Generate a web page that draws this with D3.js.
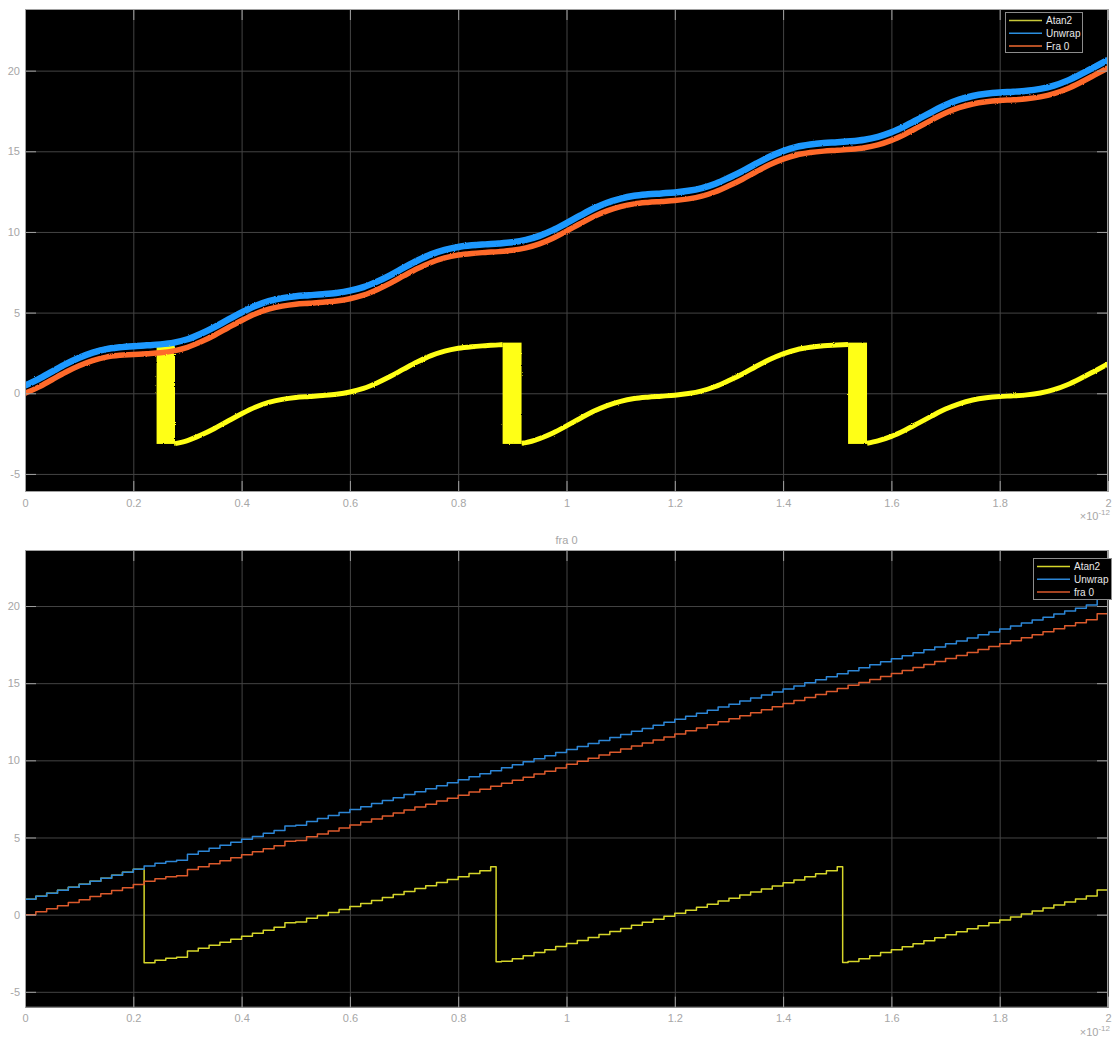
<!DOCTYPE html>
<html>
<head>
<meta charset="utf-8">
<script src="https://cdn.jsdelivr.net/npm/d3@7"></script>
<style>
  body { margin: 0; background: #ffffff; }
  svg { display: block; font-family: "Liberation Sans", Arial, Helvetica, sans-serif; }
</style>
</head>
<body>
<svg id="fig" width="1113" height="1041"></svg>
<script>
// ---------- shared axis settings (time in units of 1e-12 s) ----------
const xLimits = [0, 2];
const xTicks = [0, 0.2, 0.4, 0.6, 0.8, 1, 1.2, 1.4, 1.6, 1.8, 2];
const xTickLabels = ["0", "0.2", "0.4", "0.6", "0.8", "1", "1.2", "1.4", "1.6", "1.8", "2"];
const yTicks = [-5, 0, 5, 10, 15, 20];
const yTickLabels = ["-5", "0", "5", "10", "15", "20"];
const topYLimits = [-6.12, 23.82];
const botYLimits = [-6.03, 23.63];

// ---------- upper panel: phase of the continuous signal ----------
const topNames = ["Atan2", "Unwrap", "Fra 0"];
const topT = [0, 0.025, 0.05, 0.075, 0.1, 0.125, 0.15, 0.175, 0.2, 0.225, 0.25, 0.275, 0.3, 0.325, 0.35, 0.375,
  0.4, 0.425, 0.45, 0.475, 0.5, 0.525, 0.55, 0.575, 0.6, 0.625, 0.65, 0.675, 0.7, 0.725, 0.75, 0.775,
  0.8, 0.825, 0.85, 0.875, 0.9, 0.925, 0.95, 0.975, 1.0, 1.025, 1.05, 1.075, 1.1, 1.125, 1.15, 1.175,
  1.2, 1.225, 1.25, 1.275, 1.3, 1.325, 1.35, 1.375, 1.4, 1.425, 1.45, 1.475, 1.5, 1.525, 1.55, 1.575,
  1.6, 1.625, 1.65, 1.675, 1.7, 1.725, 1.75, 1.775, 1.8, 1.825, 1.85, 1.875, 1.9, 1.925, 1.95, 1.975, 2.0];
const topUnwrap = [0.48, 0.88, 1.34, 1.80, 2.20, 2.52, 2.74, 2.85, 2.92, 2.97, 3.03, 3.14, 3.35, 3.69, 4.10, 4.56,
  5.01, 5.41, 5.71, 5.90, 6.02, 6.08, 6.14, 6.22, 6.36, 6.58, 6.92, 7.33, 7.79, 8.23, 8.61, 8.89,
  9.07, 9.17, 9.23, 9.28, 9.36, 9.51, 9.76, 10.11, 10.55, 11.01, 11.45, 11.81, 12.07, 12.24, 12.33, 12.39,
  12.45, 12.55, 12.72, 12.99, 13.36, 13.77, 14.23, 14.66, 15.01, 15.27, 15.42, 15.51, 15.56, 15.62, 15.72, 15.90,
  16.18, 16.56, 17.00, 17.45, 17.87, 18.20, 18.43, 18.57, 18.65, 18.69, 18.75, 18.87, 19.07, 19.38, 19.78, 20.22, 20.67];
const topFra0 = [0.00, 0.38, 0.84, 1.30, 1.70, 2.02, 2.24, 2.35, 2.40, 2.45, 2.51, 2.63, 2.85, 3.19, 3.60, 4.06,
  4.51, 4.91, 5.21, 5.40, 5.52, 5.58, 5.64, 5.72, 5.86, 6.08, 6.42, 6.83, 7.29, 7.73, 8.11, 8.39,
  8.57, 8.67, 8.73, 8.78, 8.86, 9.01, 9.26, 9.61, 10.05, 10.51, 10.95, 11.31, 11.57, 11.74, 11.83, 11.89,
  11.95, 12.05, 12.22, 12.49, 12.86, 13.27, 13.73, 14.16, 14.51, 14.77, 14.92, 15.01, 15.06, 15.12, 15.22, 15.40,
  15.68, 16.06, 16.50, 16.95, 17.37, 17.70, 17.93, 18.07, 18.15, 18.19, 18.25, 18.37, 18.57, 18.88, 19.28, 19.72, 20.17];
// wrapped phase; null marks the wrap intervals, where the band is drawn instead
const topAtanT = [0, 0.025, 0.05, 0.075, 0.1, 0.125, 0.15, 0.175, 0.2, 0.225, 0.243, 0.26,
  0.277, 0.3, 0.325, 0.35, 0.375, 0.4, 0.425, 0.45, 0.475, 0.5, 0.525, 0.55, 0.575, 0.6, 0.625, 0.65, 0.675,
  0.7, 0.725, 0.75, 0.775, 0.8, 0.825, 0.85, 0.875, 0.882, 0.9,
  0.917, 0.925, 0.95, 0.975, 1.0, 1.025, 1.05, 1.075, 1.1, 1.125, 1.15, 1.175, 1.2, 1.225, 1.25, 1.275,
  1.3, 1.325, 1.35, 1.375, 1.4, 1.425, 1.45, 1.475, 1.5, 1.52, 1.54,
  1.555, 1.575, 1.6, 1.625, 1.65, 1.675, 1.7, 1.725, 1.75, 1.775, 1.8, 1.825, 1.85, 1.875, 1.9, 1.925, 1.95, 1.975, 2.0];
const topAtanV = [0.48, 0.88, 1.34, 1.80, 2.20, 2.52, 2.74, 2.85, 2.92, 2.97, 3.01, null,
  -3.12, -2.93, -2.59, -2.18, -1.72, -1.27, -0.87, -0.57, -0.38, -0.26, -0.20, -0.14, -0.06, 0.08, 0.30, 0.64, 1.05,
  1.51, 1.95, 2.33, 2.61, 2.79, 2.89, 2.95, 3.00, 3.02, null,
  -3.10, -3.06, -2.81, -2.46, -2.02, -1.56, -1.12, -0.76, -0.50, -0.33, -0.24, -0.18, -0.12, -0.02, 0.15, 0.42,
  0.79, 1.20, 1.66, 2.09, 2.44, 2.70, 2.85, 2.94, 2.99, 3.03, null,
  -3.10, -2.95, -2.67, -2.29, -1.85, -1.40, -0.98, -0.65, -0.42, -0.28, -0.20, -0.16, -0.10, 0.02, 0.22, 0.53, 0.93, 1.37, 1.82];
// intervals where the wrapped phase flips between +pi and -pi
const wrapStart = [0.243, 0.882, 1.520];
const wrapEnd = [0.277, 0.917, 1.555];
const wrapLow = -3.14;
const wrapHigh = 3.14;

// ---------- lower panel: phase of the sampled signal "fra 0" ----------
const botTitle = "fra 0";
const botNames = ["Atan2", "Unwrap", "fra 0"];
const botT = [0, 0.02, 0.04, 0.06, 0.08, 0.1, 0.12, 0.14, 0.16, 0.18, 0.2, 0.22, 0.24, 0.26, 0.28, 0.3, 0.32, 0.34,
  0.36, 0.38, 0.4, 0.42, 0.44, 0.46, 0.48, 0.5, 0.52, 0.54, 0.56, 0.58, 0.6, 0.62, 0.64, 0.66, 0.68, 0.7,
  0.72, 0.74, 0.76, 0.78, 0.8, 0.82, 0.84, 0.86, 0.88, 0.9, 0.92, 0.94, 0.96, 0.98, 1.0, 1.02, 1.04, 1.06,
  1.08, 1.1, 1.12, 1.14, 1.16, 1.18, 1.2, 1.22, 1.24, 1.26, 1.28, 1.3, 1.32, 1.34, 1.36, 1.38, 1.4, 1.42,
  1.44, 1.46, 1.48, 1.5, 1.52, 1.54, 1.56, 1.58, 1.6, 1.62, 1.64, 1.66, 1.68, 1.7, 1.72, 1.74, 1.76, 1.78,
  1.8, 1.82, 1.84, 1.86, 1.88, 1.9, 1.92, 1.94, 1.96, 1.98, 2.0];
// step levels: each value is held from its time to the next one
const botUnwrap = [1.00, 1.19, 1.39, 1.58, 1.78, 1.97, 2.17, 2.36, 2.56, 2.75, 2.95, 3.16, 3.33, 3.45, 3.52, 3.92, 4.11, 4.30,
  4.49, 4.69, 4.88, 5.07, 5.27, 5.46, 5.75, 5.80, 6.04, 6.23, 6.42, 6.62, 6.81, 7.00, 7.20, 7.39, 7.58, 7.78,
  7.97, 8.16, 8.36, 8.55, 8.74, 8.94, 9.13, 9.32, 9.52, 9.71, 9.91, 10.11, 10.30, 10.50, 10.70, 10.89, 11.09, 11.29,
  11.48, 11.68, 11.88, 12.07, 12.27, 12.46, 12.66, 12.86, 13.05, 13.25, 13.45, 13.64, 13.84, 14.04, 14.23, 14.43, 14.63, 14.82,
  15.02, 15.22, 15.41, 15.61, 15.81, 16.00, 16.19, 16.39, 16.58, 16.77, 16.97, 17.16, 17.35, 17.55, 17.74, 17.93, 18.13, 18.32,
  18.51, 18.70, 18.90, 19.09, 19.28, 19.48, 19.67, 19.86, 20.06, 20.45, 20.45];
const botFra0 = [0.00, 0.19, 0.39, 0.58, 0.78, 0.97, 1.17, 1.36, 1.56, 1.75, 1.95, 2.16, 2.33, 2.45, 2.52, 2.92, 3.11, 3.30,
  3.49, 3.69, 3.88, 4.07, 4.27, 4.46, 4.75, 4.80, 5.04, 5.23, 5.42, 5.62, 5.81, 6.00, 6.20, 6.39, 6.58, 6.78,
  6.97, 7.16, 7.36, 7.55, 7.74, 7.94, 8.13, 8.32, 8.52, 8.71, 8.91, 9.11, 9.30, 9.50, 9.75, 9.94, 10.14, 10.34,
  10.53, 10.73, 10.93, 11.12, 11.32, 11.51, 11.71, 11.91, 12.10, 12.30, 12.50, 12.69, 12.89, 13.09, 13.28, 13.48, 13.68, 13.87,
  14.07, 14.27, 14.46, 14.66, 14.86, 15.05, 15.24, 15.44, 15.63, 15.82, 16.02, 16.21, 16.40, 16.60, 16.79, 16.98, 17.18, 17.37,
  17.56, 17.75, 17.95, 18.14, 18.33, 18.53, 18.72, 18.91, 19.11, 19.50, 19.50];
const botAtanT = [0, 0.02, 0.04, 0.06, 0.08, 0.1, 0.12, 0.14, 0.16, 0.18, 0.2,
  0.22, 0.24, 0.26, 0.28, 0.3, 0.32, 0.34, 0.36, 0.38, 0.4, 0.42, 0.44, 0.46, 0.48, 0.5, 0.52, 0.54,
  0.56, 0.58, 0.6, 0.62, 0.64, 0.66, 0.68, 0.7, 0.72, 0.74, 0.76, 0.78, 0.8, 0.82, 0.84, 0.86,
  0.87, 0.88, 0.9, 0.92, 0.94, 0.96, 0.98, 1.0, 1.02, 1.04, 1.06, 1.08, 1.1, 1.12, 1.14, 1.16, 1.18,
  1.2, 1.22, 1.24, 1.26, 1.28, 1.3, 1.32, 1.34, 1.36, 1.38, 1.4, 1.42, 1.44, 1.46, 1.48, 1.5,
  1.51, 1.52, 1.54, 1.56, 1.58, 1.6, 1.62, 1.64, 1.66, 1.68, 1.7, 1.72, 1.74, 1.76, 1.78, 1.8,
  1.82, 1.84, 1.86, 1.88, 1.9, 1.92, 1.94, 1.96, 1.98, 2.0];
const botAtanV = [1.00, 1.19, 1.39, 1.58, 1.78, 1.97, 2.17, 2.36, 2.56, 2.75, 2.95,
  -3.12, -2.95, -2.83, -2.76, -2.36, -2.17, -1.98, -1.79, -1.59, -1.40, -1.21, -1.01, -0.82, -0.53, -0.48, -0.24, -0.05,
  0.14, 0.34, 0.53, 0.72, 0.92, 1.11, 1.30, 1.50, 1.69, 1.88, 2.08, 2.27, 2.46, 2.66, 2.85, 3.10,
  -3.05, -3.02, -2.86, -2.66, -2.46, -2.27, -2.07, -1.87, -1.68, -1.48, -1.28, -1.09, -0.89, -0.69, -0.50, -0.30, -0.11,
  0.09, 0.29, 0.48, 0.68, 0.88, 1.07, 1.27, 1.47, 1.66, 1.86, 2.06, 2.25, 2.45, 2.65, 2.84, 3.10,
  -3.10, -3.04, -2.85, -2.66, -2.46, -2.27, -2.08, -1.88, -1.69, -1.50, -1.30, -1.11, -0.92, -0.72, -0.53, -0.34,
  -0.15, 0.05, 0.24, 0.43, 0.63, 0.82, 1.01, 1.21, 1.60, 1.60];

// ---------- drawing ----------
const svg = d3.select("#fig");
const PLOT_LEFT = 25, PLOT_RIGHT = 1108;
const TICK_LEN = 11;
const GRID_COLOR = "#444444";
const AXIS_COLOR = "#a0a0a0";
const LABEL_COLOR = "#a6a6a6";

// slightly ragged edge for the thick, noisy traces of the upper panel
const defs = svg.append("defs");
const rough = defs.append("filter").attr("id", "ragged")
  .attr("x", "-2%").attr("y", "-5%").attr("width", "104%").attr("height", "110%");
rough.append("feTurbulence").attr("type", "fractalNoise").attr("baseFrequency", 0.9)
  .attr("numOctaves", 1).attr("seed", 3).attr("result", "noise");
rough.append("feDisplacementMap").attr("in", "SourceGraphic").attr("in2", "noise")
  .attr("scale", 2.2).attr("xChannelSelector", "R").attr("yChannelSelector", "G");

const zipXY = (xs, ys) => xs.map((t, i) => ({ t, v: ys[i] }));

function drawPanel(cfg) {
  const x = d3.scaleLinear().domain(xLimits).range([PLOT_LEFT, PLOT_RIGHT]);
  const y = d3.scaleLinear().domain(cfg.yLim).range([cfg.bottom, cfg.top]);
  const w = PLOT_RIGHT - PLOT_LEFT, h = cfg.bottom - cfg.top;
  const g = svg.append("g");

  g.append("rect").attr("x", PLOT_LEFT).attr("y", cfg.top)
    .attr("width", w).attr("height", h).attr("fill", "#000");

  // grid
  const grid = g.append("g");
  grid.append("g").attr("transform", `translate(0,${cfg.bottom})`)
    .call(d3.axisBottom(x).tickValues(xTicks).tickSize(-h).tickFormat(""));
  grid.append("g").attr("transform", `translate(${PLOT_LEFT},0)`)
    .call(d3.axisLeft(y).tickValues(yTicks).tickSize(-w).tickFormat(""));
  grid.selectAll(".domain").remove();
  grid.selectAll("line").attr("stroke", GRID_COLOR).attr("stroke-width", 1);

  // data
  const clipId = "clip-" + cfg.id;
  defs.append("clipPath").attr("id", clipId).append("rect")
    .attr("x", PLOT_LEFT).attr("y", cfg.top).attr("width", w).attr("height", h);
  const clipG = g.append("g").attr("clip-path", `url(#${clipId})`);
  const dataG = cfg.ragged ? clipG.append("g").attr("filter", "url(#ragged)") : clipG;

  cfg.series.forEach((s, k) => {
    if (k === 0 && cfg.bands) {
      const bands = cfg.bands.start.map((st, i) => ({ s: st, e: cfg.bands.end[i] }));
      dataG.selectAll("rect.wrap").data(bands).join("rect").attr("class", "wrap")
        .attr("x", d => x(d.s)).attr("width", d => x(d.e) - x(d.s))
        .attr("y", y(cfg.bands.high)).attr("height", y(cfg.bands.low) - y(cfg.bands.high))
        .attr("fill", s.color);
    }
    const line = d3.line().defined(d => d.v !== null)
      .x(d => x(d.t)).y(d => y(d.v)).curve(cfg.curve);
    dataG.append("path").datum(zipXY(s.t, s.v))
      .attr("d", line).attr("fill", "none")
      .attr("stroke", s.color).attr("stroke-width", s.width)
      .attr("stroke-linejoin", "round").attr("stroke-linecap", "butt");
  });

  // inward ticks on all four sides, labels on bottom and left
  const style = sel => {
    sel.select(".domain").remove();
    sel.selectAll("line").attr("stroke", AXIS_COLOR).attr("stroke-width", 1);
    sel.selectAll("text").attr("fill", LABEL_COLOR).attr("font-size", 11)
      .attr("font-family", "'Liberation Sans', Arial, sans-serif");
  };
  g.append("g").attr("transform", `translate(0,${cfg.bottom})`)
    .call(d3.axisBottom(x).tickValues(xTicks).tickSizeInner(-TICK_LEN).tickSizeOuter(0)
      .tickPadding(7).tickFormat((d, i) => xTickLabels[i])).call(style);
  g.append("g").attr("transform", `translate(0,${cfg.top})`)
    .call(d3.axisTop(x).tickValues(xTicks).tickSizeInner(-TICK_LEN).tickSizeOuter(0).tickFormat("")).call(style);
  g.append("g").attr("transform", `translate(${PLOT_LEFT},0)`)
    .call(d3.axisLeft(y).tickValues(yTicks).tickSizeInner(-TICK_LEN).tickSizeOuter(0)
      .tickPadding(5).tickFormat((d, i) => yTickLabels[i])).call(style);
  g.append("g").attr("transform", `translate(${PLOT_RIGHT},0)`)
    .call(d3.axisRight(y).tickValues(yTicks).tickSizeInner(-TICK_LEN).tickSizeOuter(0).tickFormat("")).call(style);

  g.append("rect").attr("x", PLOT_LEFT + 0.5).attr("y", cfg.top + 0.5)
    .attr("width", w - 1).attr("height", h - 1)
    .attr("fill", "none").attr("stroke", AXIS_COLOR).attr("stroke-width", 1);

  // exponent of the time axis
  const ex = g.append("text").attr("x", PLOT_RIGHT + 2).attr("y", cfg.bottom + 28)
    .attr("text-anchor", "end").attr("fill", LABEL_COLOR).attr("font-size", 11);
  ex.append("tspan").text("×10");
  ex.append("tspan").attr("dy", -5).attr("font-size", 8).text("-12");

  if (cfg.title) {
    g.append("text").attr("x", (PLOT_LEFT + PLOT_RIGHT) / 2).attr("y", cfg.top - 6)
      .attr("text-anchor", "middle").attr("fill", LABEL_COLOR).attr("font-size", 11)
      .text(cfg.title);
  }

  // legend
  const L = cfg.legend;
  const lg = g.append("g");
  lg.append("rect").attr("x", L.x + 0.5).attr("y", L.y + 0.5).attr("width", L.w).attr("height", L.h)
    .attr("fill", "#000").attr("stroke", "#8c8c8c").attr("stroke-width", 1);
  const rows = lg.selectAll("g.row").data(cfg.series).join("g").attr("class", "row")
    .attr("transform", (d, i) => `translate(${L.x},${L.y + 8.5 + i * 12.7})`);
  rows.append("line").attr("x1", 4).attr("x2", 37).attr("y1", 0).attr("y2", 0)
    .attr("stroke", d => d.legendColor).attr("stroke-width", 1.5);
  rows.append("text").attr("x", 41).attr("y", 3.6).attr("fill", "#e8e8e8").attr("font-size", 10)
    .text(d => d.name);
}

drawPanel({
  id: "top", top: 9, bottom: 492, yLim: topYLimits, curve: d3.curveMonotoneX, ragged: true,
  bands: { start: wrapStart, end: wrapEnd, low: wrapLow, high: wrapHigh },
  series: [
    { name: topNames[0], t: topAtanT, v: topAtanV, color: "#ffff14", legendColor: "#c9c93a", width: 5 },
    { name: topNames[1], t: topT, v: topUnwrap, color: "#1c98ff", legendColor: "#2b8fe0", width: 6.5 },
    { name: topNames[2], t: topT, v: topFra0, color: "#ff6a2c", legendColor: "#f06a30", width: 5.5 }
  ],
  legend: { x: 1005, y: 12, w: 77, h: 40 }
});

drawPanel({
  id: "bot", top: 550, bottom: 1007.7, yLim: botYLimits, curve: d3.curveStepAfter, title: botTitle,
  series: [
    { name: botNames[0], t: botAtanT, v: botAtanV, color: "#d6d62a", legendColor: "#d6d62a", width: 1.5 },
    { name: botNames[1], t: botT, v: botUnwrap, color: "#2c86d6", legendColor: "#2c86d6", width: 1.5 },
    { name: botNames[2], t: botT, v: botFra0, color: "#dc5a2c", legendColor: "#dc5a2c", width: 1.5 }
  ],
  legend: { x: 1033, y: 558, w: 78, h: 41 }
});
</script>
</body>
</html>
